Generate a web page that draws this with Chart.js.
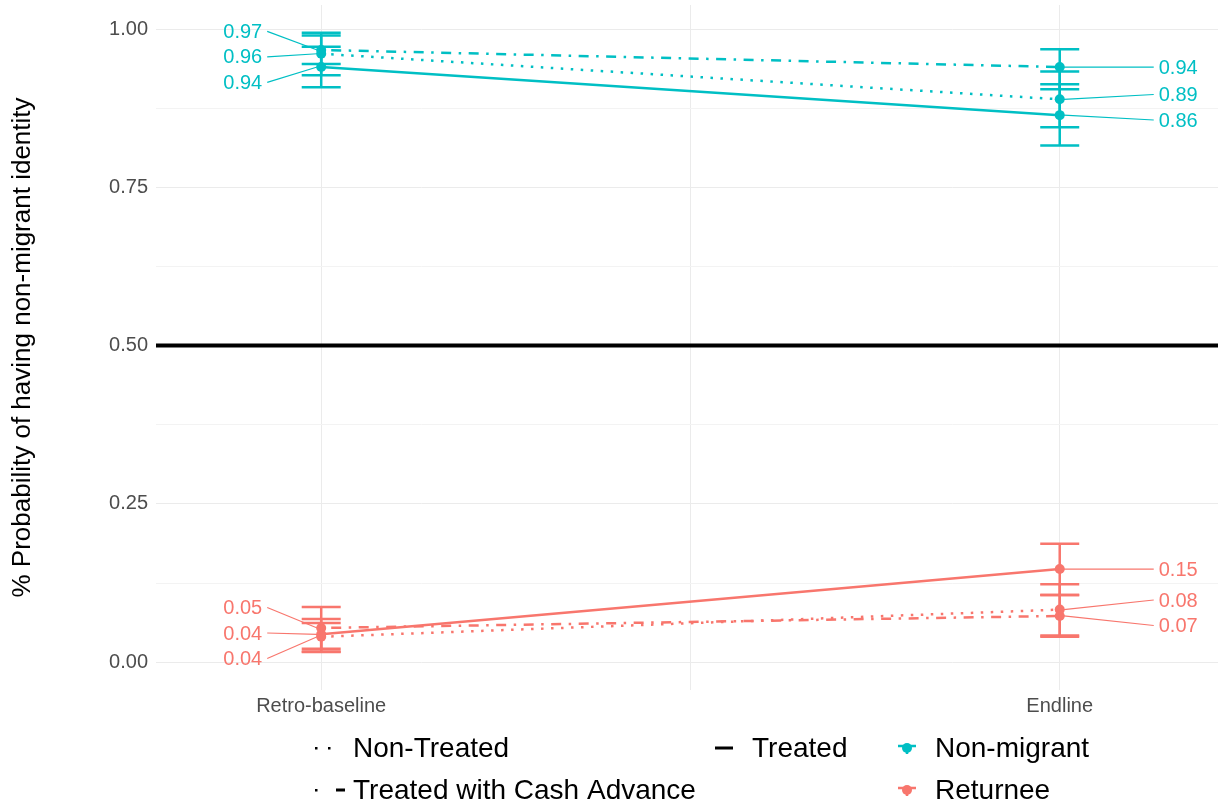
<!DOCTYPE html>
<html>
<head>
<meta charset="utf-8">
<title>Probability of non-migrant identity</title>
<script src="https://cdn.jsdelivr.net/npm/chart.js@4/dist/chart.umd.min.js"></script>
<style>
  body { margin: 0; background: #fff; }
  #wrap { width: 1223px; height: 805px; }
</style>
</head>
<body>
<div id="wrap"><canvas id="chart" width="1223" height="805"></canvas></div>
<script>
// Data
const timepoints = ['Retro-baseline', 'Endline'];
const groups = ['Non-migrant', 'Returnee'];
const treatments = ['Non-Treated', 'Treated', 'Treated with Cash Advance'];
const yTicks = [0, 0.25, 0.5, 0.75, 1];
const refLine = 0.5;

const nonMigrantNonTreated = [0.961, 0.889];
const nonMigrantNonTreatedLow = [0.927, 0.845];
const nonMigrantNonTreatedHigh = [0.994, 0.933];

const nonMigrantTreated = [0.940, 0.864];
const nonMigrantTreatedLow = [0.908, 0.816];
const nonMigrantTreatedHigh = [0.972, 0.913];

const nonMigrantCash = [0.967, 0.940];
const nonMigrantCashLow = [0.945, 0.905];
const nonMigrantCashHigh = [0.990, 0.968];

const returneeNonTreated = [0.040, 0.083];
const returneeNonTreatedLow = [0.017, 0.042];
const returneeNonTreatedHigh = [0.062, 0.123];

const returneeTreated = [0.044, 0.147];
const returneeTreatedLow = [0.016, 0.106];
const returneeTreatedHigh = [0.068, 0.187];

const returneeCash = [0.054, 0.073];
const returneeCashLow = [0.021, 0.040];
const returneeCashHigh = [0.087, 0.106];

// Styles
const groupColors = ['#00BFC4', '#F8766D'];
const treatmentDash = [[2.5, 7.5], [], [2.5, 7.5, 10, 7.5]];
const FONT = '"Liberation Sans", Arial, sans-serif';

const series = [
  { group: 0, treatment: 0, values: nonMigrantNonTreated, low: nonMigrantNonTreatedLow, high: nonMigrantNonTreatedHigh },
  { group: 0, treatment: 1, values: nonMigrantTreated, low: nonMigrantTreatedLow, high: nonMigrantTreatedHigh },
  { group: 0, treatment: 2, values: nonMigrantCash, low: nonMigrantCashLow, high: nonMigrantCashHigh },
  { group: 1, treatment: 0, values: returneeNonTreated, low: returneeNonTreatedLow, high: returneeNonTreatedHigh },
  { group: 1, treatment: 1, values: returneeTreated, low: returneeTreatedLow, high: returneeTreatedHigh },
  { group: 1, treatment: 2, values: returneeCash, low: returneeCashLow, high: returneeCashHigh }
];

// spread labels apart vertically (simple repel)
function repel(items, gap) {
  items.sort((a, b) => a.py - b.py);
  let clusters = items.map(it => [it]);
  const place = c => {
    const mean = c.reduce((s, it) => s + it.py, 0) / c.length;
    c.forEach((it, k) => it.ly = mean + (k - (c.length - 1) / 2) * gap);
  };
  let merged = true;
  while (merged) {
    merged = false;
    clusters.forEach(place);
    for (let i = 0; i < clusters.length - 1; i++) {
      const a = clusters[i], b = clusters[i + 1];
      if (b[0].ly - a[a.length - 1].ly < gap) {
        clusters.splice(i, 2, a.concat(b));
        merged = true;
        break;
      }
    }
  }
  clusters.forEach(place);
}

const extras = {
  id: 'extras',
  beforeDatasetsDraw(chart) {
    const { ctx, chartArea, scales } = chart;
    const y = scales.y.getPixelForValue(refLine);
    ctx.save();
    ctx.strokeStyle = '#000';
    ctx.lineWidth = 4;
    ctx.beginPath();
    ctx.moveTo(chartArea.left, y);
    ctx.lineTo(chartArea.right, y);
    ctx.stroke();
    ctx.restore();
  },
  afterDatasetsDraw(chart) {
    const { ctx, scales } = chart;
    const xs = scales.x, ys = scales.y;
    ctx.save();

    // error bars
    ctx.lineWidth = 2.5;
    series.forEach(s => {
      ctx.strokeStyle = groupColors[s.group];
      timepoints.forEach((t, i) => {
        const x = xs.getPixelForValue(i);
        const y1 = ys.getPixelForValue(s.low[i]);
        const y2 = ys.getPixelForValue(s.high[i]);
        ctx.beginPath();
        ctx.moveTo(x, y1); ctx.lineTo(x, y2);
        ctx.moveTo(x - 19.5, y1); ctx.lineTo(x + 19.5, y1);
        ctx.moveTo(x - 19.5, y2); ctx.lineTo(x + 19.5, y2);
        ctx.stroke();
      });
    });

    // value labels
    ctx.font = '20px ' + FONT;
    ctx.textBaseline = 'middle';
    groups.forEach((g, gi) => {
      timepoints.forEach((t, i) => {
        const px = xs.getPixelForValue(i);
        const items = series.filter(s => s.group === gi).map(s => ({
          value: s.values[i], py: ys.getPixelForValue(s.values[i])
        }));
        repel(items, 25.5);
        ctx.fillStyle = groupColors[gi];
        ctx.strokeStyle = groupColors[gi];
        ctx.lineWidth = 1.2;
        items.forEach(it => {
          const left = i === 0;
          const tx = left ? px - 59 : px + 99;
          const sx = left ? tx + 5 : tx - 5;
          ctx.beginPath();
          ctx.moveTo(sx, it.ly);
          ctx.lineTo(px + (left ? -4 : 4), it.py);
          ctx.stroke();
          ctx.textAlign = left ? 'right' : 'left';
          ctx.fillText(it.value.toFixed(2), tx, it.ly + 1);
        });
      });
    });
    ctx.restore();
  },
  afterDraw(chart) {
    const { ctx } = chart;
    const y1 = 748, y2 = 790;
    ctx.save();
    ctx.fillStyle = '#000';
    ctx.strokeStyle = '#000';
    ctx.font = '28px ' + FONT;
    ctx.textBaseline = 'middle';
    ctx.textAlign = 'left';
    ctx.fillText(treatments[0], 353, y1 + 1);
    ctx.fillText(treatments[2], 353, y2 + 1);
    ctx.fillText(treatments[1], 752, y1 + 1);
    ctx.fillText(groups[0], 935, y1 + 1);
    ctx.fillText(groups[1], 935, y2 + 1);

    // line keys
    ctx.fillRect(315, y1 - 1, 2.5, 2.5);
    ctx.fillRect(328, y1 - 1, 2.5, 2.5);
    ctx.fillRect(315, y2 - 1, 2.5, 2.5);
    ctx.fillRect(336, y2 - 1.5, 9, 3);
    ctx.fillRect(715, y1 - 1.5, 18, 3);

    // point keys
    [y1, y2].forEach((yy, gi) => {
      ctx.fillStyle = groupColors[gi];
      ctx.strokeStyle = groupColors[gi];
      ctx.lineWidth = 2.5;
      ctx.beginPath();
      ctx.moveTo(898, yy - 2); ctx.lineTo(916, yy - 2);
      ctx.moveTo(907, yy - 2); ctx.lineTo(907, yy + 6);
      ctx.stroke();
      ctx.beginPath();
      ctx.arc(907, yy, 5, 0, Math.PI * 2);
      ctx.fill();
    });
    ctx.restore();
  }
};

const datasets = series.map(s => ({
  label: groups[s.group] + ' ' + treatments[s.treatment],
  data: s.values.map((v, i) => ({ x: i, y: v })),
  showLine: true,
  borderColor: groupColors[s.group],
  backgroundColor: groupColors[s.group],
  borderDash: treatmentDash[s.treatment],
  borderWidth: 2.5,
  pointRadius: 5,
  pointBorderWidth: 0,
  fill: false
}));

new Chart(document.getElementById('chart'), {
  type: 'scatter',
  data: { datasets },
  plugins: [extras],
  options: {
    responsive: false,
    animation: false,
    layout: { padding: 0 },
    plugins: { legend: { display: false }, tooltip: { enabled: false } },
    scales: {
      x: {
        type: 'linear',
        min: -0.2237,
        max: 1.2143,
        afterBuildTicks: scale => { scale.ticks = [0, 0.5, 1].map(v => ({ value: v })); },
        afterFit: scale => { scale.height = 115; scale.paddingLeft = 0; scale.paddingRight = 0; },
        ticks: {
          autoSkip: false,
          maxRotation: 0,
          padding: 4,
          color: '#4D4D4D',
          font: { family: FONT, size: 20 },
          callback: v => v === 0 ? timepoints[0] : v === 1 ? timepoints[1] : ''
        },
        grid: { color: '#EBEBEB', lineWidth: 1, drawTicks: false },
        border: { display: false }
      },
      y: {
        min: -0.044,
        max: 1.038,
        afterBuildTicks: scale => {
          const t = [];
          for (let i = 0; i < yTicks.length; i++) {
            t.push({ value: yTicks[i] });
            if (i < yTicks.length - 1) t.push({ value: (yTicks[i] + yTicks[i + 1]) / 2 });
          }
          scale.ticks = t;
        },
        afterFit: scale => { scale.width = 156; scale.paddingTop = 0; scale.paddingBottom = 0; },
        ticks: {
          autoSkip: false,
          padding: 8,
          color: '#4D4D4D',
          font: { family: FONT, size: 20 },
          callback: v => yTicks.includes(v) ? v.toFixed(2) : ''
        },
        grid: {
          color: ctx => yTicks.includes(ctx.tick.value) ? '#EBEBEB' : '#F3F3F3',
          lineWidth: 1,
          drawTicks: false
        },
        border: { display: false },
        title: {
          display: true,
          text: '% Probability of having non-migrant identity',
          color: '#000',
          font: { family: FONT, size: 26 },
          padding: { top: 7, bottom: 0 }
        }
      }
    }
  }
});
</script>
</body>
</html>
